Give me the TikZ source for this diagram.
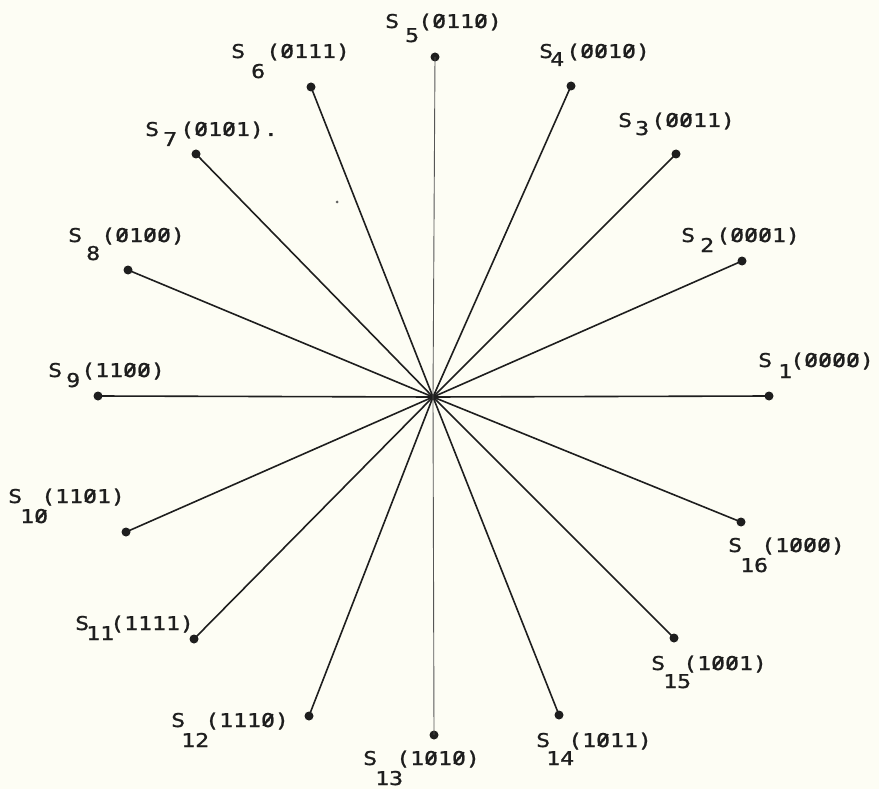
\documentclass[tikz,border=0pt]{standalone}
\usepackage{graphicx}
\usepackage{fontspec}
\newfontfamily\plotfont[FakeBold=1]{DejaVu Sans Mono}
\definecolor{paper}{RGB}{253,253,244}
\definecolor{ink}{RGB}{30,30,30}
\newcommand\sx[1]{\scalebox{1.22}[1]{#1}}
\newcommand\zr{\rlap{0}\makebox[\fontcharwd\font`0][c]{\raisebox{0.32em}{\rotatebox[origin=c]{56}{\rule{0.74em}{0.1em}}}}}
\newcommand\slab[5]{\rlap{\sx{S}}\rlap{\hspace*{#1pt}\raisebox{-#2pt}{\sx{#3}}}\hspace*{#4pt}\sx{(#5)}}
\tikzset{
  lab/.style={anchor=base west, inner sep=0pt, text=ink, font=\plotfont\fontsize{19}{19}\selectfont},
  spoke/.style={draw=ink, line width=1.6pt},
  vspoke/.style={draw=ink!75, line width=0.9pt},
  pt/.style={circle, fill=ink, inner sep=0pt, minimum size=9pt},
}
\begin{document}
\begin{tikzpicture}[x=1pt,y=-1pt]
\fill[paper] (0,0) rectangle (879,789);
\useasboundingbox (0,0) rectangle (879,789);
\coordinate (c) at (433,397);
% points
\node[pt] (p1) at (769,396) {};
\node[pt] (p2) at (742,261) {};
\node[pt] (p3) at (676,154) {};
\node[pt] (p4) at (571,86) {};
\node[pt] (p5) at (435,57) {};
\node[pt] (p6) at (311,87) {};
\node[pt] (p7) at (196,154) {};
\node[pt] (p8) at (128,270) {};
\node[pt] (p9) at (98,396) {};
\node[pt] (p10) at (126,532) {};
\node[pt] (p11) at (194,639) {};
\node[pt] (p12) at (309,716) {};
\node[pt] (p13) at (434,735) {};
\node[pt] (p14) at (559,715) {};
\node[pt] (p15) at (674,638) {};
\node[pt] (p16) at (741,522) {};
% spokes
\foreach \i in {1,2,3,4,6,7,8,9,10,11,12,14,15,16}{\draw[spoke] (c) -- (p\i.center);}
\draw[vspoke] (c) -- (p5.center);
\draw[vspoke] (c) -- (p13.center);
% stray plotter dot
\fill[ink!70] (337,202) circle (1.5pt);
% labels
\node[lab] (l1)  at (758,367) {\slab{20}{11}{1}{32}{\zr\zr\zr\zr}};
\node[lab] (l2)  at (681,242) {\slab{19}{10}{2}{35}{\zr\zr\zr 1}};
\node[lab] (l3)  at (618,127) {\slab{17}{8}{3}{33}{\zr\zr 11}};
\node[lab] (l4)  at (539,58)  {\slab{11}{8}{4}{27}{\zr\zr 1\zr}};
\node[lab] (l5)  at (385,28)  {\slab{20}{14}{5}{33}{\zr 11\zr}};
\node[lab] (l6)  at (231,58)  {\slab{20}{20}{6}{35}{\zr 111}};
\node[lab] (l7)  at (145,136) {\slab{18}{10}{7}{35}{\zr 1\zr 1}\sx{.}};
\node[lab] (l8)  at (68,242)  {\slab{18}{18}{8}{33}{\zr 1\zr\zr}};
\node[lab] (l9)  at (48,377)  {\slab{18}{10}{9}{33}{11\zr\zr}};
\node[lab] (l10) at (8,503)   {\slab{12}{20}{1\zr}{33}{11\zr 1}};
\node[lab] (l11) at (75,630)  {\slab{11}{10}{11}{35}{1111}};
\node[lab] (l12) at (171,727) {\slab{10}{20}{12}{34}{111\zr}};
\node[lab] (l13) at (363,765) {\slab{12}{20}{13}{33}{1\zr 1\zr}};
\node[lab] (l14) at (536,747) {\slab{10}{18}{14}{32}{1\zr 11}};
\node[lab] (l15) at (651,670) {\slab{12}{18}{15}{32}{1\zr\zr 1}};
\node[lab] (l16) at (728,552) {\slab{12}{20}{16}{33}{1\zr\zr\zr}};
\end{tikzpicture}
\end{document}
